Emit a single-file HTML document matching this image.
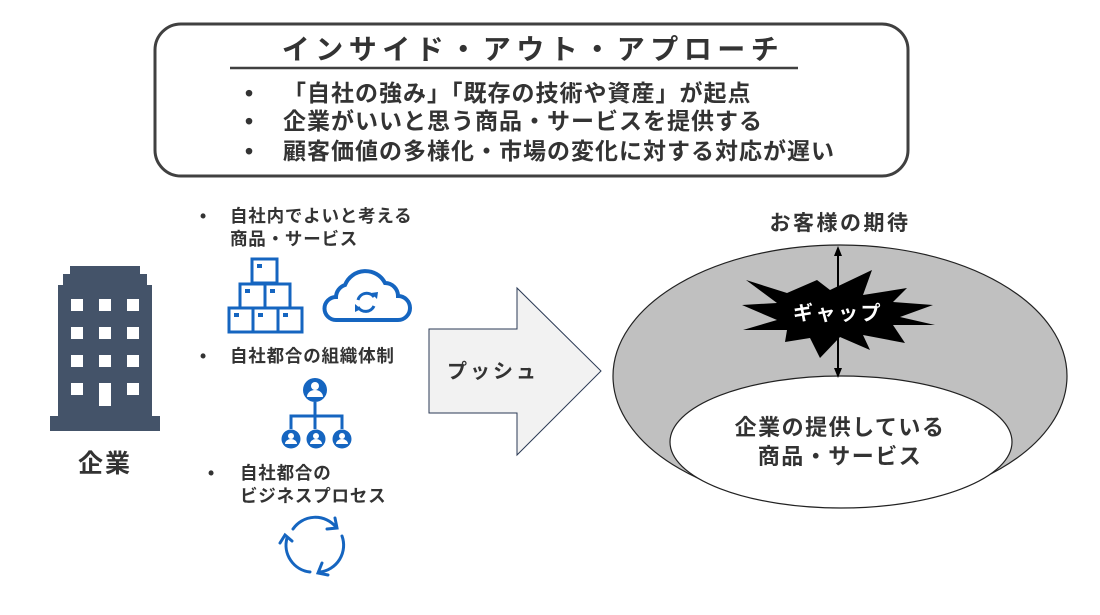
<!DOCTYPE html>
<html><head><meta charset="utf-8"><style>
body{margin:0;background:#fff;}
svg text{font-family:"Liberation Sans","Noto Sans CJK JP",sans-serif;font-weight:bold;}
</style></head><body>
<svg width="1100" height="610" viewBox="0 0 1100 610" xmlns="http://www.w3.org/2000/svg">
<rect x="155" y="24" width="753" height="152" rx="26" fill="#fff" stroke="#404040" stroke-width="3"/>
<text x="533" y="59" font-size="28" letter-spacing="5.5" fill="#333" text-anchor="middle">インサイド・アウト・アプローチ</text>
<line x1="230" y1="68" x2="798" y2="68" stroke="#404040" stroke-width="2.5"/>
<g font-size="23" fill="#333" letter-spacing="1">
<text x="245" y="101">•</text><text x="283" y="101">「自社の強み」「既存の技術や資産」が起点</text>
<text x="245" y="129">•</text><text x="283" y="129">企業がいいと思う商品・サービスを提供する</text>
<text x="245" y="159">•</text><text x="283" y="159">顧客価値の多様化・市場の変化に対する対応が遅い</text>
</g>
<!-- building -->
<g fill="#445369">
<rect x="70" y="266" width="70" height="10"/>
<rect x="63" y="274" width="84" height="14"/>
<rect x="58" y="285" width="94" height="135"/>
<rect x="50" y="416" width="110" height="15"/>
</g>
<g fill="#fff">
<rect x="71" y="299" width="12" height="12"/><rect x="99" y="299" width="12" height="12"/><rect x="127" y="299" width="12" height="12"/>
<rect x="71" y="327" width="12" height="12"/><rect x="99" y="327" width="12" height="12"/><rect x="127" y="327" width="12" height="12"/>
<rect x="71" y="355" width="12" height="12"/><rect x="99" y="355" width="12" height="12"/><rect x="127" y="355" width="12" height="12"/>
<rect x="71" y="383" width="12" height="12"/><rect x="99" y="383" width="12" height="23"/><rect x="127" y="383" width="12" height="12"/>
</g>
<text x="105" y="472" font-size="25" letter-spacing="2" fill="#333" text-anchor="middle">企業</text>
<!-- left texts -->
<g font-size="17.5" fill="#333" letter-spacing="0.8">
<text x="200" y="222">•</text><text x="230" y="222">自社内でよいと考える</text>
<text x="230" y="245">商品・サービス</text>
<text x="200" y="362">•</text><text x="230" y="362">自社都合の組織体制</text>
<text x="208" y="479">•</text><text x="240" y="479">自社都合の</text>
<text x="240" y="502">ビジネスプロセス</text>
</g>
<!-- boxes -->
<g fill="none" stroke="#1565c0" stroke-width="3">
<rect x="252" y="259" width="25" height="24"/>
<rect x="240" y="284" width="25" height="24"/><rect x="265" y="284" width="25" height="24"/>
<rect x="229" y="308" width="24" height="24"/><rect x="253" y="308" width="25" height="24"/><rect x="278" y="308" width="24" height="24"/>
</g>
<g fill="#1565c0">
<rect x="257" y="264" width="5" height="4"/><rect x="245" y="289" width="5" height="4"/><rect x="270" y="289" width="5" height="4"/>
<rect x="234" y="313" width="5" height="4"/><rect x="258" y="313" width="5" height="4"/><rect x="283" y="313" width="5" height="4"/>
</g>
<!-- cloud -->
<path d="M336 320 H398 A12 12 0 0 0 398 296 A13 13 0 0 0 385 283 A22 22 0 0 0 345 285 A13 13 0 0 0 336 297 A11.5 11.5 0 0 0 336 320 Z" fill="none" stroke="#1565c0" stroke-width="4"/>
<path d="M358 300 A9 9 0 0 1 374 297 M374 306 A9 9 0 0 1 358 307" fill="none" stroke="#1565c0" stroke-width="3"/>
<path d="M371 293 L377 299 L378 292Z M355 312 L355 304 L361 309Z" fill="#1565c0"/>
<!-- org chart -->
<g fill="#1565c0">
<circle cx="315" cy="390" r="12"/>
<circle cx="291" cy="439" r="9.5"/><circle cx="316" cy="439" r="9.5"/><circle cx="342" cy="439" r="9.5"/>
</g>
<g fill="#fff">
<circle cx="315" cy="386" r="4"/><path d="M307 397 A8 7 0 0 1 323 397Z"/>
<circle cx="291" cy="436" r="3"/><path d="M285 444 A6 5 0 0 1 297 444Z"/>
<circle cx="316" cy="436" r="3"/><path d="M310 444 A6 5 0 0 1 322 444Z"/>
<circle cx="342" cy="436" r="3"/><path d="M336 444 A6 5 0 0 1 348 444Z"/>
</g>
<path d="M315 402 V429 M291 429 V416 H342 V429" fill="none" stroke="#1565c0" stroke-width="3"/>
<!-- cycle -->
<g fill="none" stroke="#1565c0" stroke-width="3" stroke-linecap="round">
<path d="M293 529 A27 27 0 0 1 336 527"/>
<path d="M342 536 A27 27 0 0 1 320 572"/>
<path d="M310 572 A27 27 0 0 1 287 538"/>
<polyline points="335,518 337,528 327,529"/>
<polyline points="322,563 318,573 328,575"/>
<polyline points="280,543 285,535 292,541"/>
</g>
<!-- push arrow -->
<polygon points="429,329 517,329 517,288 601,371 517,455 517,413 429,413" fill="#f2f2f2" stroke="#2b3a55" stroke-width="1"/>
<text x="447" y="378" font-size="20" letter-spacing="3" fill="#333">プッシュ</text>
<!-- ellipses -->
<ellipse cx="840" cy="376" rx="227" ry="131" fill="#c0c0c0" stroke="#222" stroke-width="1.2"/>
<ellipse cx="841" cy="442" rx="171" ry="66" fill="#fff" stroke="#222" stroke-width="1.2"/>
<text x="840" y="230" font-size="21" letter-spacing="2.5" fill="#333" text-anchor="middle">お客様の期待</text>
<text x="840" y="435" font-size="22" letter-spacing="1.5" fill="#333" text-anchor="middle">企業の提供している</text>
<text x="840" y="464" font-size="22" letter-spacing="1.5" fill="#333" text-anchor="middle">商品・サービス</text>
<polygon points="746,280 787,293 817,280 830,290 872,270 863,295 907,288 893,302 933,305 900,317 935,325 893,325 905,343 863,335 870,350 840,337 820,358 810,338 785,342 787,330 743,330 777,320 742,305 777,303" fill="#000"/>
<line x1="838" y1="252" x2="838" y2="372" stroke="#000" stroke-width="2"/>
<path d="M838 246 L834 256 L842 256Z M838 378 L834 368 L842 368Z" fill="#000"/>
<text x="838" y="320" font-size="20" letter-spacing="2.5" fill="#fff" text-anchor="middle">ギャップ</text>
</svg>
</body></html>
